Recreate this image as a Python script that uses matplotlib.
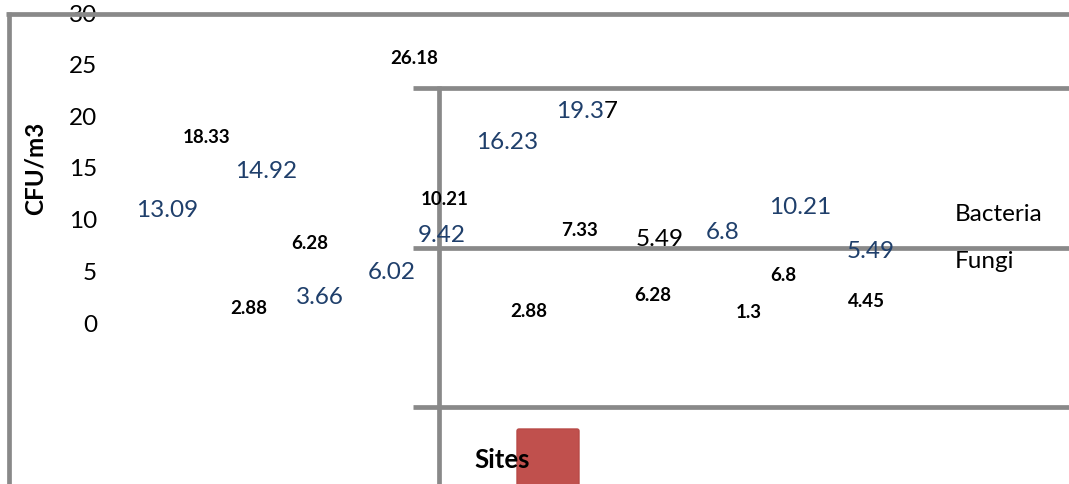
import matplotlib
matplotlib.use("Agg")
import matplotlib.pyplot as plt
from matplotlib.patches import FancyBboxPatch

# ---------------- data ----------------
y_ticks = [0, 5, 10, 15, 20, 25, 30]
y_label = "CFU/m3"
x_label = "Sites"
series_names = ["Bacteria", "Fungi"]
bacteria_values = [13.09, 14.92, 3.66, 6.02, 9.42, 16.23, 19.37, 6.8, 10.21, 5.49]
fungi_values = [18.33, 2.88, 6.28, 26.18, 10.21, 7.33, 2.88, 6.28, 1.3, 6.8, 4.45]
extra_black_value = 5.49

# ---------------- layout (pixel centres of the scattered labels) ----------------
W, H = 1069, 485
bact_pos = [(167, 208), (266, 169), (320, 295), (392, 270), (442, 233),
            (507, 140), (593, 108), (723, 230), (800, 205), (871, 249)]
fungi_pos = [(207, 136), (249, 307), (310, 242), (414, 56), (445, 198),
             (579, 229), (529, 310), (653, 294), (749, 311), (783, 274), (866, 300)]
extra_black_pos = (660, 237)

BLUE = "#1F3F6B"
GRAY = "#898989"
RED = "#C0504D"
FONT = ["Lato", "DejaVu Sans"]
BIG = 17.5
SMALL = 13.5

plt.rcParams["font.family"] = FONT

fig = plt.figure(figsize=(W / 100, H / 100), dpi=100)

# value axis (0 at pixel 323, 30 at pixel 13)
ax = fig.add_axes([0, 0, 1, 1])
px_per_unit = (323 - 13) / 30.0
ax.set_ylim((323 - H) / px_per_unit, 323 / px_per_unit)
ax.set_xlim(0, W)
for s in ax.spines.values():
    s.set_visible(False)
ax.set_xticks([])
ax.set_yticks(y_ticks)
ax.set_yticklabels([str(t) for t in y_ticks], fontsize=BIG)
ax.tick_params(axis="y", length=0, pad=-97 * 72 / 100)
ax.set_facecolor("white")

# overlay in pixel coordinates for frame lines and labels
ov = fig.add_axes([0, 0, 1, 1])
ov.set_xlim(0, W)
ov.set_ylim(H, 0)
ov.axis("off")
ov.patch.set_alpha(0)

lw = 3.4
ov.plot([6, W], [15, 15], color=GRAY, lw=lw, solid_capstyle="butt", zorder=3)
ov.plot([8.5, 8.5], [13, H], color=GRAY, lw=lw, solid_capstyle="butt", zorder=3)
for yy in (88.5, 248.5, 408):
    ov.plot([413, W], [yy, yy], color=GRAY, lw=lw, solid_capstyle="butt", zorder=3)
ov.plot([439, 439], [86.5, H], color=GRAY, lw=lw, solid_capstyle="butt", zorder=3)

rect = FancyBboxPatch((517, 430), 62, 60, boxstyle="round,pad=0,rounding_size=2",
                      facecolor=RED, edgecolor="#B84A47", lw=1, zorder=2)
ov.add_patch(rect)

dy_big = 3
dy_small = 2
for v, (x, y) in zip(bacteria_values, bact_pos):
    txt = f"{v:g}"
    if v == 19.37:
        ov.text(x + 11, y + dy_big, txt[:-1], color=BLUE, fontsize=BIG, ha="right", va="center", zorder=5)
        ov.text(x + 11, y + dy_big, txt[-1], color="black", fontsize=BIG, ha="left", va="center", zorder=5)
    else:
        ov.text(x, y + dy_big, txt, color=BLUE, fontsize=BIG, ha="center", va="center", zorder=5)

for v, (x, y) in zip(fungi_values, fungi_pos):
    ov.text(x, y + dy_small, f"{v:g}", color="black", fontsize=SMALL, fontweight="bold",
            ha="center", va="center", zorder=5)

ov.text(extra_black_pos[0], extra_black_pos[1] + dy_big, f"{extra_black_value:g}", color="black",
        fontsize=BIG, ha="center", va="center", zorder=5)

ov.text(35, 168, y_label, rotation=90, fontsize=17.5, fontweight="bold",
        ha="center", va="center", zorder=5)
ov.text(502, 460, x_label, fontsize=18.5, fontweight="bold", ha="center", va="center", zorder=5)

ov.text(955, 215, series_names[0], fontsize=BIG, ha="left", va="center", zorder=5)
ov.text(955, 262, series_names[1], fontsize=BIG, ha="left", va="center", zorder=5)

fig.savefig("out.png", dpi=100, facecolor="white")
